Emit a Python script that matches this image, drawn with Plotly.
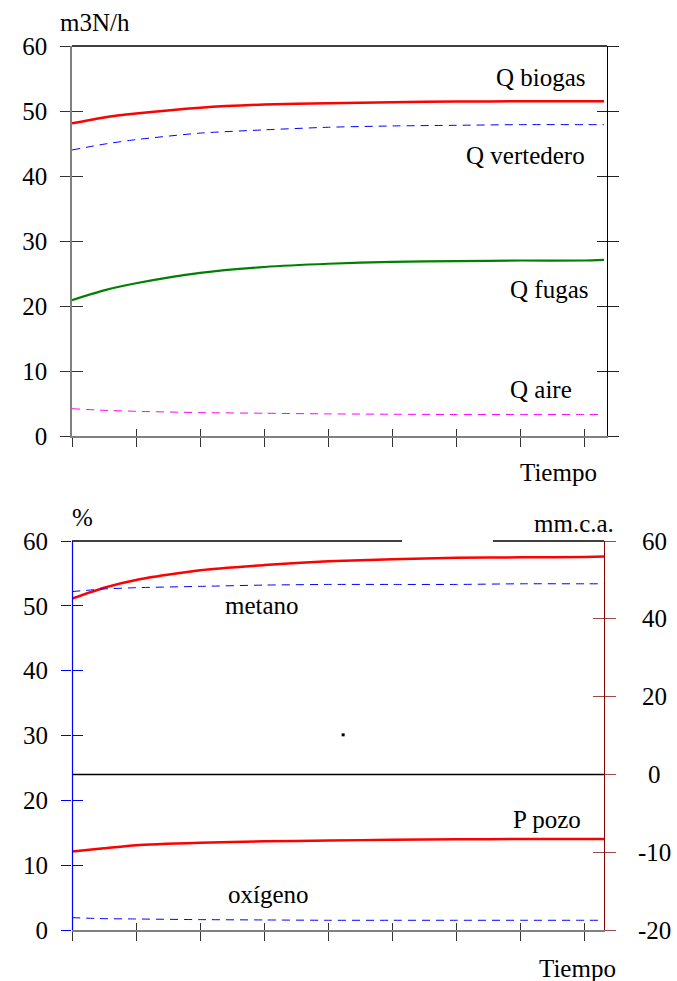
import numpy as np
import plotly.graph_objects as go

# ---------------- data ----------------
t = [0, 0.5, 1, 2, 3, 4, 5, 6, 7, 8, 8.3]

q_biogas = [48.1, 49.0, 49.6, 50.5, 51.0, 51.2, 51.35, 51.45, 51.5, 51.5, 51.5]
q_vertedero = [44.0, 44.9, 45.6, 46.6, 47.1, 47.5, 47.7, 47.8, 47.9, 47.9, 47.9]
q_fugas = [20.9, 22.4, 23.5, 25.1, 26.0, 26.5, 26.8, 26.9, 27.0, 27.0, 27.1]
q_aire = [4.2, 3.95, 3.8, 3.6, 3.5, 3.4, 3.35, 3.3, 3.3, 3.3, 3.3]

metano = [52.2, 52.6, 52.8, 53.0, 53.2, 53.3, 53.3, 53.3, 53.4, 53.4, 53.4]
oxigeno = [1.9, 1.75, 1.7, 1.6, 1.55, 1.5, 1.5, 1.5, 1.5, 1.5, 1.5]
p_vert = [45.2, 48.0, 50.0, 52.5, 53.8, 54.8, 55.3, 55.7, 55.8, 55.9, 56.0]   # mm.c.a.
p_pozo = [-9.9, -9.5, -9.1, -8.8, -8.6, -8.5, -8.4, -8.35, -8.3, -8.3, -8.3]  # mm.c.a.

dot_t = [4.23]
dot_v = [30.1]

x_ticks = [0, 1, 2, 3, 4, 5, 6, 7, 8]
y_ticks = [0, 10, 20, 30, 40, 50, 60]
mm_ticks = [-20, -10, 0, 20, 40, 60]
mm_tick_text = ["-20", "-10", "0", "20", "40", "60"]
mm_tick_pos = [0, 12, 24, 36, 48, 60]   # where the mm ticks sit on the % scale


def mm_to_pos(v):
    return list(np.interp(v, mm_ticks, mm_tick_pos))


FONT = "Liberation Serif, Times New Roman, serif"
FS = 25
W, H = 677, 981

def px(x):
    return x / W

def py(y):
    return 1 - y / H

top_x = [px(72), px(607)]
top_y = [py(436), py(46)]
bot_x = [px(72), px(604)]
bot_y = [py(930), py(541)]
top_range = [0, 535 / 64.1]
bot_range = [0, 532 / 64.1]

fig = go.Figure()

def line(x, y, color, width, dash=None, xa="x", ya="y"):
    fig.add_trace(go.Scatter(x=x, y=y, mode="lines", xaxis=xa, yaxis=ya,
                             line=dict(color=color, width=width, dash=dash, shape="spline", smoothing=0.6),
                             showlegend=False, hoverinfo="skip"))

# top chart series
line(t, q_biogas, "#ff0000", 2.5)
line(t, q_vertedero, "#0000ff", 1, "8px,6px")
line(t, q_fugas, "#008000", 2.2)
line(t, q_aire, "#ff00ff", 1, "8px,6px")

# bottom chart series
line(t, mm_to_pos(p_vert), "#ff0000", 2.5, None, "x2", "y2")
line(t, metano, "#0000ff", 1, "8px,6px", "x2", "y2")
line(t, mm_to_pos(p_pozo), "#ff0000", 2.5, None, "x2", "y2")
line(t, oxigeno, "#0000ff", 1, "8px,6px", "x2", "y2")
fig.add_trace(go.Scatter(x=dot_t, y=dot_v, mode="markers", xaxis="x2", yaxis="y2",
                         marker=dict(color="black", size=3, symbol="square"),
                         showlegend=False, hoverinfo="skip"))

# dummy traces to instantiate overlay axes (crossing ticks)
for xa, ya in [("x3", "y3"), ("x", "y4"), ("x", "y5"), ("x4", "y6"), ("x2", "y7"), ("x2", "y8")]:
    fig.add_trace(go.Scatter(x=[None], y=[None], xaxis=xa, yaxis=ya, showlegend=False, hoverinfo="skip"))

base_ax = dict(showgrid=False, zeroline=False, fixedrange=True, automargin=False)

fig.update_layout(
    width=W, height=H,
    margin=dict(l=0, r=0, t=0, b=0, autoexpand=False),
    paper_bgcolor="white", plot_bgcolor="white",
    font=dict(family=FONT, size=FS, color="black"),
    # ----- top chart -----
    xaxis=dict(**base_ax, domain=top_x, anchor="y", range=top_range, tickvals=x_ticks,
               ticks="outside", ticklen=9, tickcolor="#333", tickwidth=1.2,
               showline=True, linecolor="#808080", linewidth=1.5, showticklabels=False),
    xaxis3=dict(**base_ax, overlaying="x", anchor="y", range=top_range, tickvals=x_ticks,
                ticks="inside", ticklen=7, tickcolor="#333", tickwidth=1.2,
                showline=False, showticklabels=False),
    yaxis=dict(**base_ax, domain=top_y, anchor="x", range=[0, 60], tickvals=y_ticks,
               ticks="outside", ticklen=10, tickcolor="#333", tickwidth=1.2,
               showline=True, linecolor="#808080", linewidth=1.5,
               ticklabelstandoff=8, tickfont=dict(family=FONT, size=FS)),
    yaxis3=dict(**base_ax, overlaying="y", anchor="x", range=[0, 60], tickvals=y_ticks,
                ticks="inside", ticklen=11, tickcolor="#333", tickwidth=1.2,
                showline=False, showticklabels=False),
    yaxis4=dict(**base_ax, overlaying="y", anchor="x", side="right", range=[0, 60], tickvals=y_ticks,
                ticks="outside", ticklen=11, tickcolor="#222", tickwidth=1.2,
                showline=True, linecolor="black", linewidth=1.3, showticklabels=False),
    yaxis5=dict(**base_ax, overlaying="y", anchor="x", side="right", range=[0, 60], tickvals=y_ticks,
                ticks="inside", ticklen=10, tickcolor="#222", tickwidth=1.2,
                showline=False, showticklabels=False),
    # ----- bottom chart -----
    xaxis2=dict(**base_ax, domain=bot_x, anchor="y2", range=bot_range, tickvals=x_ticks,
                ticks="outside", ticklen=9, tickcolor="#333", tickwidth=1.2,
                showline=True, linecolor="#808080", linewidth=1.5, showticklabels=False),
    xaxis4=dict(**base_ax, overlaying="x2", anchor="y2", range=bot_range, tickvals=x_ticks,
                ticks="inside", ticklen=7, tickcolor="#333", tickwidth=1.2,
                showline=False, showticklabels=False),
    yaxis2=dict(**base_ax, domain=bot_y, anchor="x2", range=[0, 60], tickvals=y_ticks,
                ticks="outside", ticklen=10, tickcolor="#0000ff", tickwidth=1.3,
                showline=False,
                ticklabelstandoff=8, tickfont=dict(family=FONT, size=FS)),
    yaxis6=dict(**base_ax, overlaying="y2", anchor="x2", range=[0, 60], tickvals=y_ticks,
                ticks="inside", ticklen=11, tickcolor="#0000ff", tickwidth=1.3,
                showline=False, showticklabels=False),
    yaxis7=dict(**base_ax, overlaying="y2", anchor="x2", side="right", range=[0, 60],
                tickvals=mm_tick_pos,
                ticks="outside", ticklen=11, tickcolor="#a04848", tickwidth=1.2,
                showline=True, linecolor="#8b0000", linewidth=1.3, showticklabels=False),
    yaxis8=dict(**base_ax, overlaying="y2", anchor="x2", side="right", range=[0, 60],
                tickvals=mm_tick_pos, ticks="inside", ticklen=11, tickcolor="#a04848", tickwidth=1.2,
                showline=False, showticklabels=False),
)

# frame lines
fig.add_shape(type="line", xref="paper", yref="paper", x0=px(72), x1=px(607), y0=py(46), y1=py(46),
              line=dict(color="black", width=1.5), layer="above")
fig.add_shape(type="line", xref="paper", yref="paper", x0=px(72), x1=px(402), y0=py(541), y1=py(541),
              line=dict(color="black", width=1.5), layer="above")
fig.add_shape(type="line", xref="paper", yref="paper", x0=px(493), x1=px(604), y0=py(541), y1=py(541),
              line=dict(color="black", width=1.5), layer="above")
zero_pos = mm_to_pos([0])[0]
fig.add_shape(type="line", xref="paper", yref="y2", x0=px(72), x1=px(604), y0=zero_pos, y1=zero_pos,
              line=dict(color="black", width=1.5), layer="above")
# blue left axis of the lower chart
fig.add_shape(type="line", xref="paper", yref="paper", x0=px(72.5), x1=px(72.5), y0=py(930), y1=py(541),
              line=dict(color="#0000ff", width=1.2), layer="above")

def ann(text, x, y, xref, yref, xanchor="center"):
    fig.add_annotation(text=text, x=x, y=y, xref=xref, yref=yref, xanchor=xanchor, yanchor="middle",
                       showarrow=False, font=dict(family=FONT, size=FS, color="black"))

# right (mm.c.a.) tick labels
for txt, pos in zip(mm_tick_text, mm_tick_pos):
    ann(txt, px(654), pos, "paper", "y2")

# series labels
ann("Q biogas", 8.05, 55.1, "x", "y", "right")
ann("Q vertedero", 8.03, 43.2, "x", "y", "right")
ann("Q fugas", 8.08, 22.6, "x", "y", "right")
ann("Q aire", 7.83, 7.1, "x", "y", "right")
ann("metano", 2.97, 50.0, "x2", "y2")
ann("oxígeno", 3.06, 5.4, "x2", "y2")
ann("P pozo", 7.97, 17.0, "x2", "y2", "right")
ann("P vert", 5.77, 60.5, "x2", "y2")

# axis titles
ann("m3N/h", px(95), py(23), "paper", "paper")
ann("Tiempo", px(558), py(472), "paper", "paper")
ann("%", px(82), py(517), "paper", "paper")
ann("mm.c.a.", px(616), py(523), "paper", "paper", "right")
ann("Tiempo", px(577), py(968), "paper", "paper")

fig.write_html("out.html", config={"displayModeBar": False},
               post_script="document.body.style.margin='0';document.body.style.overflow='hidden';")
